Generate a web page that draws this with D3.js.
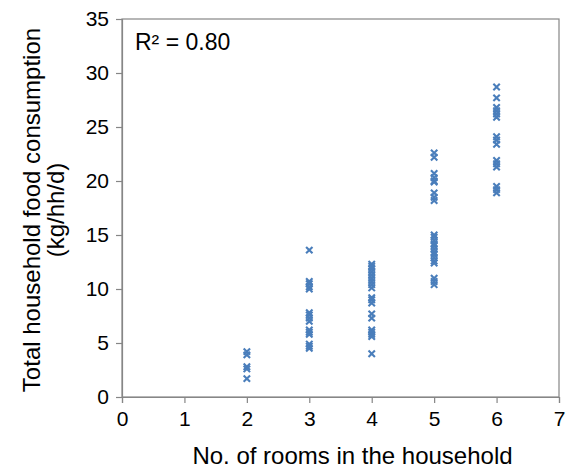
<!DOCTYPE html>
<html><head><meta charset="utf-8">
<script src="https://cdn.jsdelivr.net/npm/d3@7"></script>
<style>body{margin:0;background:#fff}svg{display:block}</style>
</head><body>
<svg id="c" width="574" height="472"></svg>
<script>
const xTicks = [0,1,2,3,4,5,6,7];
const yTicks = [0,5,10,15,20,25,30,35];
const rooms2 = [4.2, 3.9, 2.8, 2.6, 1.7];
const rooms3 = [13.6, 10.7, 10.5, 10.2, 10.0, 7.8, 7.6, 7.3, 7.0, 6.2, 6.0, 5.8, 4.9, 4.7, 4.5];
const rooms4 = [12.3, 12.1, 11.9, 11.6, 11.3, 11.0, 10.7, 10.4, 10.1, 9.2, 9.0, 8.7, 7.7, 7.3, 6.2, 6.0, 5.8, 5.6, 4.0];
const rooms5 = [22.6, 22.2, 20.7, 20.3, 20.0, 19.9, 18.9, 18.5, 18.2, 15.0, 14.8, 14.5, 14.2, 14.0, 13.7, 13.4, 13.2, 12.9, 12.6, 12.4, 11.0, 10.7, 10.4];
const rooms6 = [28.7, 27.7, 26.8, 26.5, 26.2, 25.9, 24.1, 23.8, 23.4, 21.9, 21.6, 21.3, 19.5, 19.2, 18.9];
const groups = [[2, rooms2],[3, rooms3],[4, rooms4],[5, rooms5],[6, rooms6]];
const rSquared = "R² = 0.80";

const svg = d3.select("#c");
const L = 122, R = 559, T = 19, B = 397;
const x = d3.scaleLinear().domain([0,7]).range([L,R]);
const y = d3.scaleLinear().domain([0,35]).range([B,T]);
const font = "'Liberation Sans', Arial, sans-serif";
const gray = "#868686";

svg.append("rect").attr("x",L).attr("y",T).attr("width",R-L).attr("height",B-T)
  .attr("fill","none").attr("stroke",gray).attr("stroke-width",1.2);

const xa = svg.append("g").attr("transform",`translate(0,${B})`)
  .call(d3.axisBottom(x).tickValues(xTicks).tickSize(6).tickPadding(8).tickFormat(d3.format("d")));
const ya = svg.append("g").attr("transform",`translate(${L},0)`)
  .call(d3.axisLeft(y).tickValues(yTicks).tickSize(6).tickPadding(7).tickFormat(d3.format("d")));
[xa,ya].forEach(a=>{
  a.select(".domain").attr("stroke",gray).attr("stroke-width",1.2);
  a.selectAll(".tick line").attr("stroke",gray).attr("stroke-width",1.2);
  a.selectAll("text").attr("font-family",font).attr("font-size",21).attr("fill","#000");
});

const pts = [];
groups.forEach(([k, vals]) => vals.forEach(v => pts.push([k, v])));
const s = 3.2;
const mk = svg.append("g").attr("stroke","#4A7EBB").attr("stroke-width",2.1).attr("fill","none");
pts.forEach(([k,v])=>{
  const cx = x(k), cy = y(v);
  mk.append("path").attr("d",`M${cx-s},${cy-s}L${cx+s},${cy+s}M${cx-s},${cy+s}L${cx+s},${cy-s}`);
});

svg.append("text").attr("x",135).attr("y",50).attr("font-family",font).attr("font-size",23).text(rSquared);

svg.append("text").attr("x",(L+R)/2 + 12).attr("y",464).attr("text-anchor","middle")
  .attr("font-family",font).attr("font-size",24).text("No. of rooms in the household");

const yt = svg.append("text").attr("transform",`translate(40,${(T+B)/2+2}) rotate(-90)`)
  .attr("text-anchor","middle").attr("font-family",font).attr("font-size",24);
yt.append("tspan").attr("x",0).attr("dy",0).text("Total household food consumption");
yt.append("tspan").attr("x",0).attr("dy",24).text("(kg/hh/d)");
</script>
</body></html>
